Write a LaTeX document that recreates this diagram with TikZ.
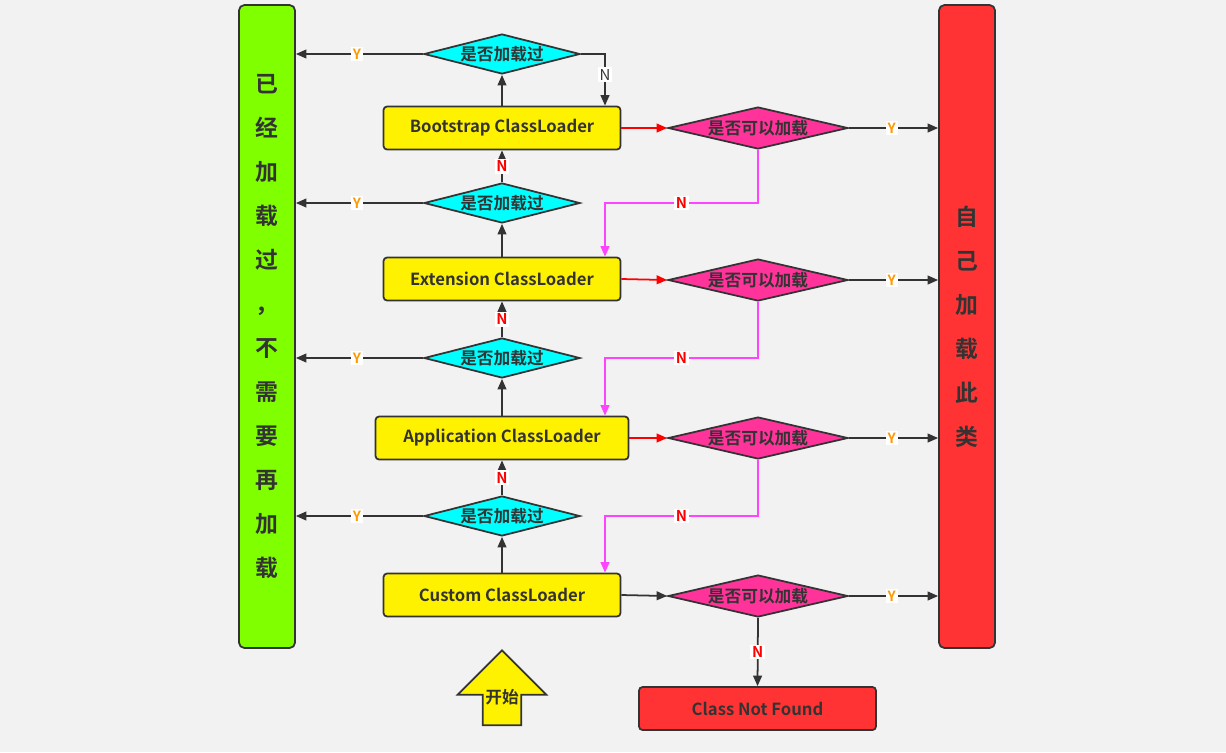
\documentclass[tikz,border=0pt]{standalone}
\usepackage{fontspec}
\setmainfont{Noto Sans CJK SC}[BoldFont={* Bold}]
\usetikzlibrary{shapes.geometric,shapes.arrows,arrows.meta}
\definecolor{bg}{HTML}{F2F2F2}
\definecolor{ln}{HTML}{333333}
\definecolor{grn}{HTML}{80FF00}
\definecolor{rd}{HTML}{FF3333}
\definecolor{cy}{HTML}{00FFFF}
\definecolor{pk}{HTML}{FF3399}
\definecolor{mg}{HTML}{FF44FF}
\definecolor{org}{HTML}{FF9900}
\begin{document}
\begin{tikzpicture}[x=0.02cm,y=-0.02cm,font=\bfseries\fontsize{9.5}{11}\selectfont,
 box/.style={draw=ln,line width=1pt,rounded corners=2pt,fill=yellow,text=ln,minimum height=0.86cm,inner sep=0pt},
 cd/.style={diamond,aspect=3.9,draw=ln,line width=1pt,fill=cy,text=ln,inner sep=0pt,minimum width=3.12cm,minimum height=0.8cm},
 pd/.style={diamond,aspect=4.3,draw=ln,line width=1pt,fill=pk,text=ln,inner sep=0pt,minimum width=3.6cm,minimum height=0.84cm},
 bar/.style={draw=ln,line width=1pt,rounded corners=3pt,minimum width=1.12cm,minimum height=12.86cm,inner sep=0pt,align=center,font=\bfseries\fontsize{13}{25}\selectfont,text=ln},
 ar/.style={ln,line width=1pt,-{Triangle[length=6pt,width=5pt]}},
 Y/.style={fill=white,text=org,inner sep=1pt,font=\bfseries\fontsize{8}{9}\selectfont},
 N/.style={fill=white,text=red,inner sep=1pt,font=\bfseries\fontsize{8.5}{9}\selectfont},
 mgl/.style={mg,line width=1pt}]
\fill[bg] (0,0) rectangle (1226,752);
\node[bar,fill=grn] (L) at (267,326.5) {已\\经\\加\\载\\过\\，\\不\\需\\要\\再\\加\\载};
\node[bar,fill=rd] (R) at (967,326.5) {自\\己\\加\\载\\此\\类};
\node[box,minimum width=4.74cm] (b1) at (502,128) {Bootstrap ClassLoader};
\node[box,minimum width=4.74cm] (b2) at (502,279) {Extension ClassLoader};
\node[box,minimum width=5.06cm] (b3) at (502,438) {Application ClassLoader};
\node[box,minimum width=4.74cm] (b4) at (502,595) {Custom ClassLoader};
\node[cd] (c1) at (502,54) {是否加载过};
\node[cd] (c2) at (502,203) {是否加载过};
\node[cd] (c3) at (502,358) {是否加载过};
\node[cd] (c4) at (502,516) {是否加载过};
\node[pd] (p1) at (758,128) {是否可以加载};
\node[pd] (p2) at (758,280) {是否可以加载};
\node[pd] (p3) at (758,438) {是否可以加载};
\node[pd] (p4) at (758,596) {是否可以加载};
\node[draw=ln,line width=1pt,rounded corners=2pt,fill=rd,text=ln,minimum width=4.74cm,minimum height=0.86cm,inner sep=0pt] (cnf) at (757.5,708.5) {Class Not Found};
\node[single arrow,shape border rotate=90,draw=ln,line width=1pt,fill=yellow,text=ln,minimum height=1.5cm,minimum width=1cm,single arrow head extend=0.5cm,single arrow tip angle=90,inner sep=1pt] (st) at (502,697.5) {开始};
% up arrows
\foreach \b/\c in {b1/c1,b2/c2,b3/c3,b4/c4}{\draw[ar] (\b.north) -- (\c.south);}
% diamonds to upper boxes (N)
\foreach \c/\b in {c2/b1,c3/b2,c4/b3}{\draw[ar] (\c.north) -- node[N]{N} (\b.south);}
% top N
\coordinate (t1) at (605,54);
\draw[ar] (c1.east) -- (t1) -- node[pos=0.4,fill=white,text=ln,inner sep=1pt,font=\fontsize{8.5}{9}\selectfont]{N} (t1 |- b1.north);
% Y left
\foreach \c in {c1,c2,c3,c4}{\draw[ar] (\c.west) -- node[Y,pos=0.52]{Y} (\c.west -| L.east);}
% box to pink
\foreach \b/\p in {b1/p1,b2/p2,b3/p3}{\draw[red,line width=1pt,-{Triangle[length=6pt,width=5pt]}] (\b.east) -- (\p.west);}
\draw[ar] (b4.east) -- (p4.west);
% Y right
\foreach \p in {p1,p2,p3,p4}{\draw[ar] (\p.east) -- node[Y,pos=0.48]{Y} (\p.east -| R.west);}
% magenta N routes
\coordinate (m1) at (758,203); \coordinate (m1b) at (605,203);
\coordinate (m2) at (758,358); \coordinate (m2b) at (605,358);
\coordinate (m3) at (758,516); \coordinate (m3b) at (605,516);
\draw[mgl,-{Triangle[length=6pt,width=5pt]}] (p1.south) -- (m1) -- node[N]{N} (m1b) -- (m1b |- b2.north);
\draw[mgl,-{Triangle[length=6pt,width=5pt]}] (p2.south) -- (m2) -- node[N]{N} (m2b) -- (m2b |- b3.north);
\draw[mgl,-{Triangle[length=6pt,width=5pt]}] (p3.south) -- (m3) -- node[N]{N} (m3b) -- (m3b |- b4.north);
\draw[ar] (p4.south) -- node[N]{N} (cnf.north);
\end{tikzpicture}
\end{document}
